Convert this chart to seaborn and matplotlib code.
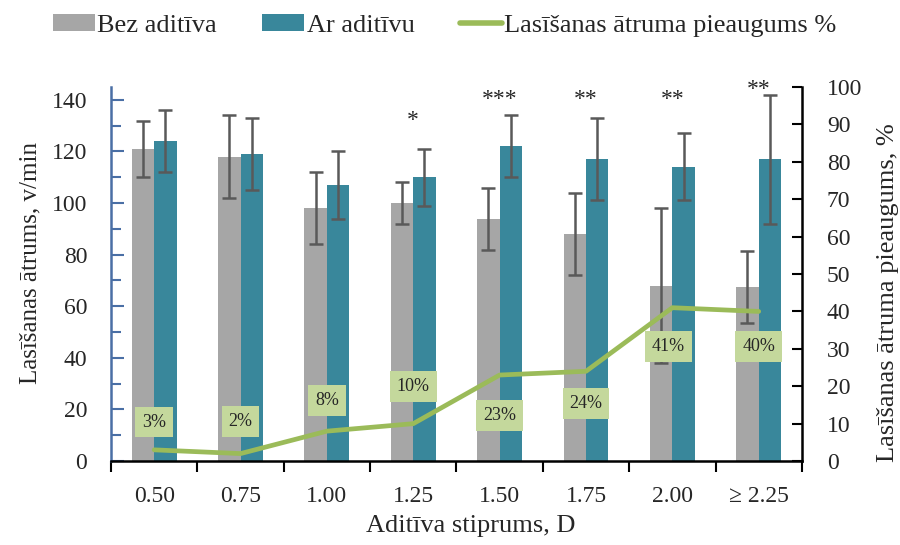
import numpy as np
import pandas as pd
import matplotlib
matplotlib.use("Agg")
import matplotlib.pyplot as plt
from matplotlib.patches import Patch
from matplotlib.lines import Line2D
from matplotlib.ticker import MultipleLocator, FixedLocator
import seaborn as sns

# ---- data ----
stiprums = ["0.50", "0.75", "1.00", "1.25", "1.50", "1.75", "2.00", "\u2265 2.25"]
bez_aditiva = [121, 118, 98, 100, 94, 88, 68, 67.5]
bez_aditiva_err = [11, 16, 14, 8, 12, 16, 30, 14]
ar_aditivu = [124, 119, 107, 110, 122, 117, 114, 117]
ar_aditivu_err = [12, 14, 13, 11, 12, 16, 13, 25]
pieaugums = [3, 2, 8, 10, 23, 24, 41, 40]
nozimiba = ["", "", "", "*", "***", "**", "**", "**"]

grupas = ["Bez aditīva", "Ar aditīvu"]

# ---- styling ----
GREY = "#a6a6a6"
TEAL = "#39879b"
GREEN = "#9bbb59"
LABEL_BG = "#c4d89c"
ERR = "#595959"
LEFT_SPINE = "#4a6fa5"

# label offsets (points) and star heights (left-axis units)
label_dy = [20, 23, 22, 27, -29, -23, -28, -25]
label_dx = [0, 0, 0, 0, 0, 0, -3, 0]
star_y = [0, 0, 0, 130, 138, 138, 138, 142]

sns.set_style("white")
plt.rcParams["font.family"] = ["Liberation Serif", "DejaVu Serif"]

df = pd.DataFrame({
    "stiprums": stiprums * 2,
    "atrums": bez_aditiva + ar_aditivu,
    "grupa": [grupas[0]] * len(stiprums) + [grupas[1]] * len(stiprums),
})

fig = plt.figure(figsize=(9, 5.45), dpi=100)
ax = fig.add_axes([0.1233, 0.154, 0.7677, 0.6864])

sns.barplot(data=df, x="stiprums", y="atrums", hue="grupa", order=stiprums,
            hue_order=grupas, palette=[GREY, TEAL], saturation=1, width=0.52,
            errorbar=None, legend=False, ax=ax, linewidth=0)

# error bars at each bar top
for cont, errs in zip(ax.containers, [bez_aditiva_err, ar_aditivu_err]):
    xs = [b.get_x() + b.get_width() / 2 for b in cont]
    hs = [b.get_height() for b in cont]
    ax.errorbar(xs, hs, yerr=errs, fmt="none", ecolor=ERR, elinewidth=1.8,
                capsize=5, capthick=1.8, zorder=3)

# significance stars
for i, (s, y) in enumerate(zip(nozimiba, star_y)):
    if s:
        ax.text(i, y, s, ha="center", va="baseline", fontsize=17,
                color="#262626", clip_on=False)

ax.set_ylim(0, 145)
ax.set_xlim(-0.5, len(stiprums) - 0.5)
ax.yaxis.set_major_locator(FixedLocator(np.arange(0, 141, 20)))
ax.yaxis.set_minor_locator(FixedLocator(np.arange(0, 141, 10)))
ax.tick_params(axis="y", which="major", direction="in", length=9, width=1.5,
               color=LEFT_SPINE, labelsize=17, pad=17, left=True)
ax.tick_params(axis="y", which="minor", direction="in", length=7, width=1.5,
               color=LEFT_SPINE, left=True)
ax.xaxis.set_minor_locator(FixedLocator(np.arange(-0.5, len(stiprums), 1.0)))
ax.tick_params(axis="x", which="major", length=0, labelsize=17, pad=18)
ax.tick_params(axis="x", which="minor", direction="out", length=8, width=1.5,
               color="black", bottom=True)

for side in ["top", "right"]:
    ax.spines[side].set_visible(False)
ax.spines["left"].set_color(LEFT_SPINE)
ax.spines["left"].set_linewidth(1.8)
ax.spines["bottom"].set_color("black")
ax.spines["bottom"].set_linewidth(1.8)

ax.set_xlabel("Aditīva stiprums, D", fontsize=19)
ax.xaxis.set_label_coords(0.521, -0.174)
ax.xaxis.label.set_va("center")
ax.set_ylabel("Lasīšanas ātrums, v/min", fontsize=18)
ax.yaxis.set_label_coords(-0.117, 0.53)
ax.yaxis.label.set_va("center")

# growth line on secondary axis
ax2 = ax.twinx()
sns.lineplot(x=np.arange(len(stiprums)), y=pieaugums, ax=ax2, color=GREEN,
             linewidth=3.4, zorder=4)
ax2.set_ylim(0, 100)
ax2.set_xlim(-0.5, len(stiprums) - 0.5)
ax2.yaxis.set_major_locator(MultipleLocator(10))
ax2.tick_params(axis="y", direction="in", length=7, width=1.5, color="black",
                labelsize=17, pad=18, right=True)
for side in ["top", "left", "bottom"]:
    ax2.spines[side].set_visible(False)
ax2.spines["right"].set_color("black")
ax2.spines["right"].set_linewidth(1.8)
ax2.set_ylabel("Lasīšanas ātruma pieaugums, %", fontsize=19, rotation=90)
ax2.yaxis.set_label_coords(1.125, 0.45)
ax2.yaxis.label.set_va("center")

for i, v in enumerate(pieaugums):
    ax2.annotate(f"{v}%", xy=(i, v), xytext=(label_dx[i], label_dy[i]),
                 textcoords="offset points", ha="center", va="center",
                 fontsize=13, color="#262626", zorder=5,
                 bbox=dict(boxstyle="square,pad=0.38", fc=LABEL_BG, ec="none"))

handles = [Patch(facecolor=GREY, edgecolor="none", label=grupas[0]),
           Patch(facecolor=TEAL, edgecolor="none", label=grupas[1]),
           Line2D([0], [0], color=GREEN, lw=4, label="Lasīšanas ātruma pieaugums %")]
fig.legend(handles=handles, loc="center", bbox_to_anchor=(0.494, 0.953),
           ncol=3, frameon=False, fontsize=19, handlelength=1.6,
           handleheight=0.6, handletextpad=0.1, columnspacing=1.7)

fig.savefig("out.png", dpi=100)
